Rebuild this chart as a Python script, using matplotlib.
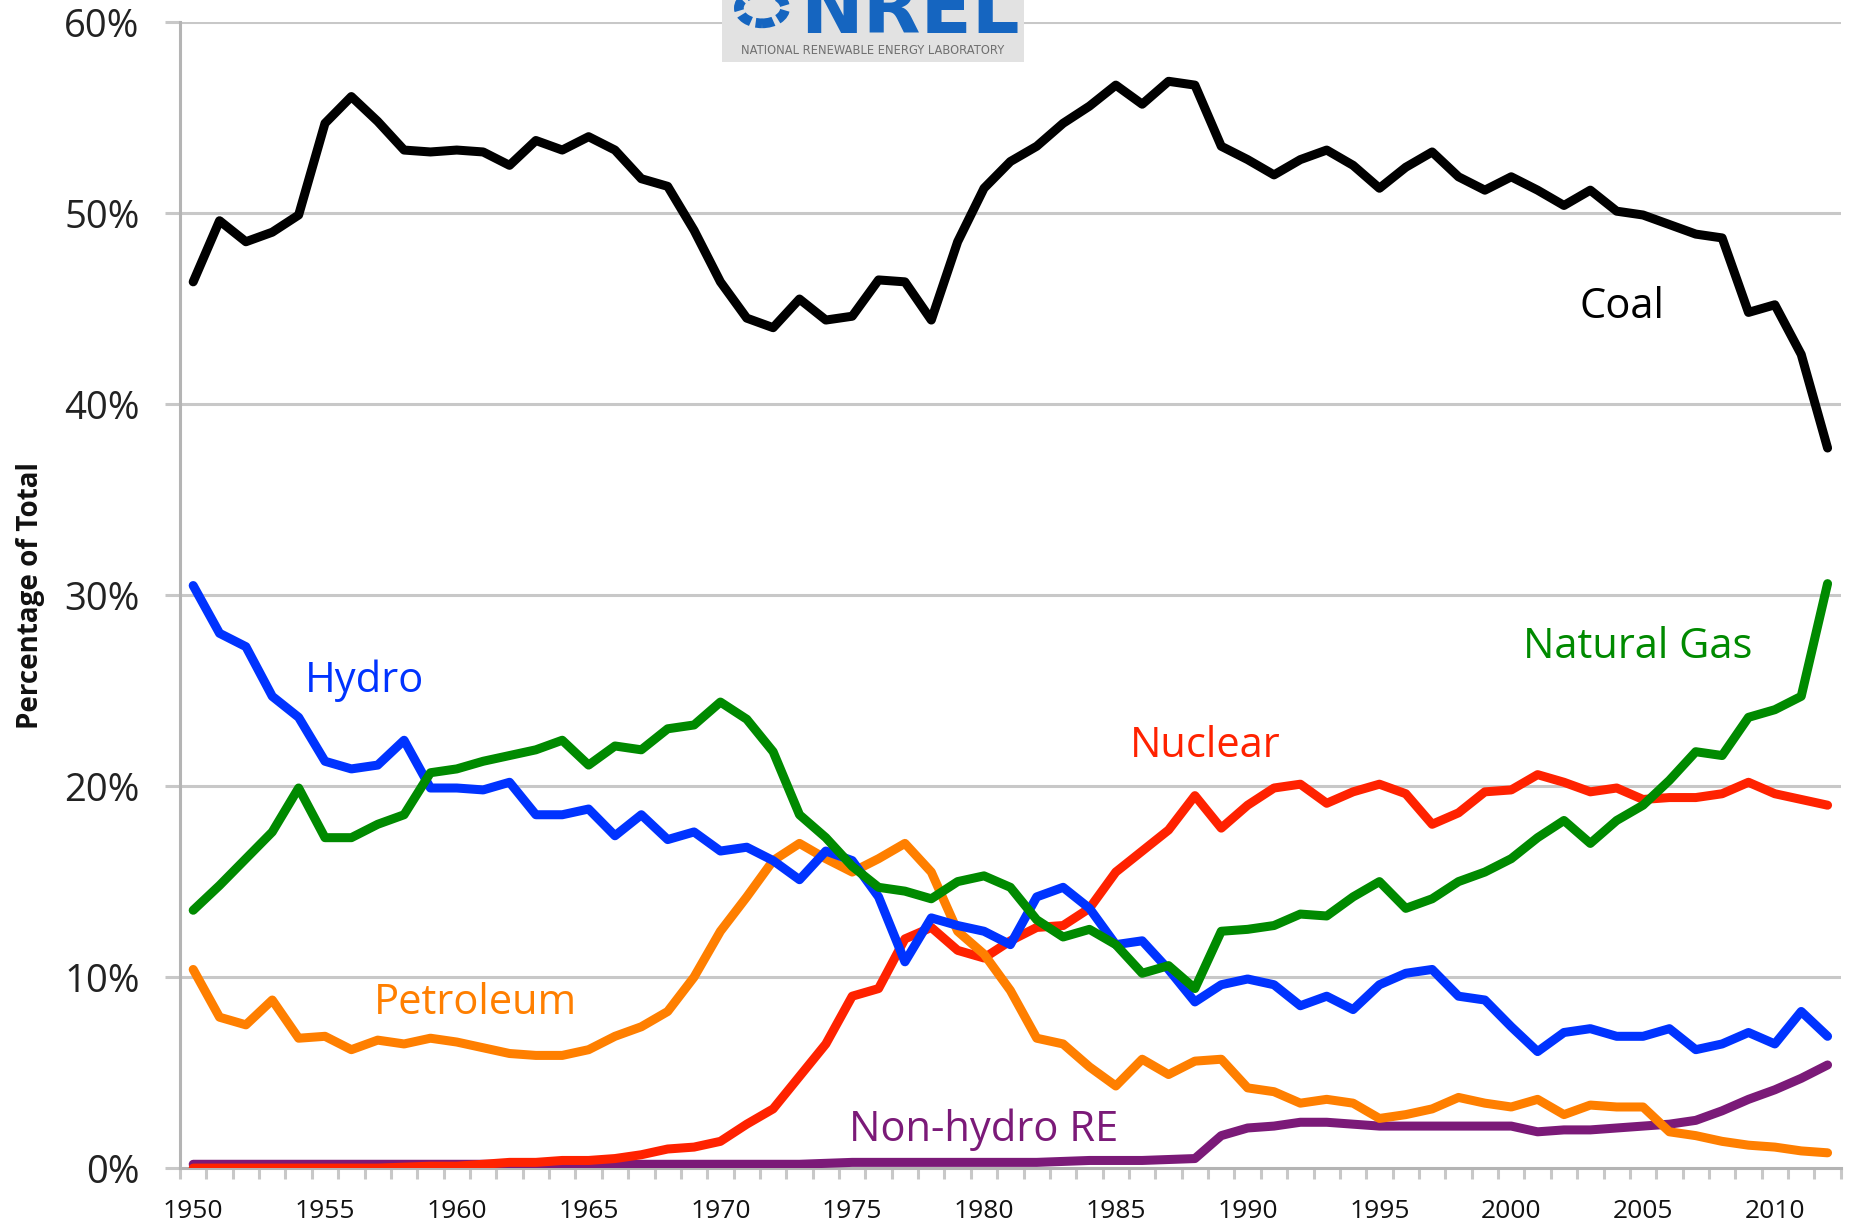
import numpy as np
import matplotlib
matplotlib.use('Agg')
import matplotlib.pyplot as plt
from matplotlib.patches import Rectangle, Circle

plt.rcParams['font.family'] = ['Open Sans', 'DejaVu Sans']

years = np.arange(1950, 2013)

coal = [46.4, 49.6, 48.5, 49.0, 49.9, 54.7, 56.1, 54.8, 53.3, 53.2,
        53.3, 53.2, 52.5, 53.8, 53.3, 54.0, 53.3, 51.8, 51.4, 49.1,
        46.4, 44.5, 44.0, 45.5, 44.4, 44.6, 46.5, 46.4, 44.4, 48.5,
        51.3, 52.7, 53.5, 54.7, 55.6, 56.7, 55.7, 56.9, 56.7, 53.5,
        52.8, 52.0, 52.8, 53.3, 52.5, 51.3, 52.4, 53.2, 51.9, 51.2,
        51.9, 51.2, 50.4, 51.2, 50.1, 49.9, 49.4, 48.9, 48.7, 44.8,
        45.2, 42.6, 37.7]

natural_gas = [13.5, 14.8, 16.2, 17.6, 19.9, 17.3, 17.3, 18.0, 18.5, 20.7,
               20.9, 21.3, 21.6, 21.9, 22.4, 21.1, 22.1, 21.9, 23.0, 23.2,
               24.4, 23.5, 21.8, 18.5, 17.3, 15.8, 14.7, 14.5, 14.1, 15.0,
               15.3, 14.7, 13.0, 12.1, 12.5, 11.7, 10.2, 10.6, 9.4, 12.4,
               12.5, 12.7, 13.3, 13.2, 14.2, 15.0, 13.6, 14.1, 15.0, 15.5,
               16.2, 17.3, 18.2, 17.0, 18.2, 19.0, 20.3, 21.8, 21.6, 23.6,
               24.0, 24.7, 30.6]

hydro = [30.5, 28.0, 27.3, 24.7, 23.6, 21.3, 20.9, 21.1, 22.4, 19.9,
         19.9, 19.8, 20.2, 18.5, 18.5, 18.8, 17.4, 18.5, 17.2, 17.6,
         16.6, 16.8, 16.1, 15.1, 16.6, 16.1, 14.2, 10.8, 13.1, 12.7,
         12.4, 11.7, 14.2, 14.7, 13.6, 11.7, 11.9, 10.4, 8.7, 9.6,
         9.9, 9.6, 8.5, 9.0, 8.3, 9.6, 10.2, 10.4, 9.0, 8.8,
         7.4, 6.1, 7.1, 7.3, 6.9, 6.9, 7.3, 6.2, 6.5, 7.1,
         6.5, 8.2, 6.9]

petroleum = [10.4, 7.9, 7.5, 8.8, 6.8, 6.9, 6.2, 6.7, 6.5, 6.8,
             6.6, 6.3, 6.0, 5.9, 5.9, 6.2, 6.9, 7.4, 8.2, 10.0,
             12.4, 14.2, 16.1, 17.0, 16.2, 15.5, 16.2, 17.0, 15.5, 12.4,
             11.2, 9.3, 6.8, 6.5, 5.3, 4.3, 5.7, 4.9, 5.6, 5.7,
             4.2, 4.0, 3.4, 3.6, 3.4, 2.6, 2.8, 3.1, 3.7, 3.4,
             3.2, 3.6, 2.8, 3.3, 3.2, 3.2, 1.9, 1.7, 1.4, 1.2,
             1.1, 0.9, 0.8]

nuclear = [0.0, 0.0, 0.0, 0.0, 0.0, 0.0, 0.0, 0.0, 0.05, 0.1,
           0.1, 0.2, 0.3, 0.3, 0.4, 0.4, 0.5, 0.7, 1.0, 1.1,
           1.4, 2.3, 3.1, 4.8, 6.5, 9.0, 9.4, 12.0, 12.6, 11.4,
           11.0, 11.9, 12.6, 12.7, 13.6, 15.5, 16.6, 17.7, 19.5, 17.8,
           19.0, 19.9, 20.1, 19.1, 19.7, 20.1, 19.6, 18.0, 18.6, 19.7,
           19.8, 20.6, 20.2, 19.7, 19.9, 19.3, 19.4, 19.4, 19.6, 20.2,
           19.6, 19.3, 19.0]

non_hydro_re = [0.2, 0.2, 0.2, 0.2, 0.2, 0.2, 0.2, 0.2, 0.2, 0.2,
                0.2, 0.2, 0.2, 0.2, 0.2, 0.2, 0.2, 0.2, 0.2, 0.2,
                0.2, 0.2, 0.2, 0.2, 0.25, 0.3, 0.3, 0.3, 0.3, 0.3,
                0.3, 0.3, 0.3, 0.35, 0.4, 0.4, 0.4, 0.45, 0.5, 1.7,
                2.1, 2.2, 2.4, 2.4, 2.3, 2.2, 2.2, 2.2, 2.2, 2.2,
                2.2, 1.9, 2.0, 2.0, 2.1, 2.2, 2.3, 2.5, 3.0, 3.6,
                4.1, 4.7, 5.4]

# series: name, data, colour, label position (year, percent)
series = [
    ('Coal', coal, '#000000', 2004.2, 45.1),
    ('Natural Gas', natural_gas, '#008a00', 2004.8, 27.3),
    ('Hydro', hydro, '#0033ff', 1956.5, 25.5),
    ('Petroleum', petroleum, '#ff7f00', 1960.7, 8.65),
    ('Nuclear', nuclear, '#ff2200', 1988.4, 22.1),
    ('Non-hydro RE', non_hydro_re, '#7b1a78', 1980.0, 2.0),
]

fig = plt.figure(figsize=(18.5, 12.27), dpi=100)
ax = fig.add_axes([0.0973, 0.048, 0.8977, 0.934])

grid_col = '#c8c8c8'
for yv in [10, 20, 30, 40, 50, 60]:
    ax.axhline(yv, color=grid_col, lw=2.2, zorder=1)

draw_order = ['Non-hydro RE', 'Nuclear', 'Petroleum', 'Hydro', 'Natural Gas', 'Coal']
for name in draw_order:
    for s in series:
        if s[0] == name:
            ax.plot(years, s[1], color=s[2], lw=6.5, solid_joinstyle='round',
                    solid_capstyle='round', zorder=3)

for name, data, col, lx, ly in series:
    ax.text(lx, ly, name, color=col, fontsize=30, ha='center', va='center', zorder=4)

ax.set_xlim(1949.5, 2012.5)
ax.set_ylim(0, 60)
ax.set_yticks([0, 10, 20, 30, 40, 50, 60])
ax.set_yticklabels(['0%', '10%', '20%', '30%', '40%', '50%', '60%'], fontsize=27.5, color='#222222')
ax.set_xticks(np.arange(1950, 2011, 5))
ax.set_xticklabels([str(y) for y in range(1950, 2011, 5)], fontsize=19, color='#111111')
ax.set_xticks(np.arange(1949.5, 2013, 1), minor=True)
ax.tick_params(axis='x', which='major', length=0, pad=22)
ax.tick_params(axis='x', which='minor', length=8, width=2.2, color=grid_col)
ax.tick_params(axis='y', which='major', length=11, width=2.2, color=grid_col, pad=18)

for side in ['top', 'right']:
    ax.spines[side].set_visible(False)
ax.spines['left'].set_color('#b4b4b4')
ax.spines['left'].set_linewidth(2.2)
ax.spines['bottom'].set_color('#b4b4b4')
ax.spines['bottom'].set_linewidth(2.2)

ax.set_ylabel('Percentage of Total', fontsize=20, fontweight='bold', color='#111111')
ax.yaxis.set_label_coords(-0.081, 0.5)

# NREL logo block at the top
fig.patches.append(Rectangle((722 / 1850, 1 - 62 / 1227), 302 / 1850, 62 / 1227,
                             transform=fig.transFigure, facecolor='#e2e2e2',
                             edgecolor='none', zorder=5))
fig.text(910 / 1850, 1 - 33 / 1227, 'NREL', color='#1565c0', fontsize=54,
         fontweight='bold', ha='center', va='baseline', zorder=6,
         family=['DejaVu Sans'])
fig.text(873 / 1850, 1 - 51 / 1227, 'NATIONAL RENEWABLE ENERGY LABORATORY',
         color='#707070', fontsize=8.3, ha='center', va='center', zorder=6,
         family=['DejaVu Sans'])
fig.patches.append(Circle((762 / 1850, 1 - 8 / 1227), 0.0125, transform=fig.transFigure,
                          facecolor='none', edgecolor='#1565c0', lw=7,
                          linestyle=(0, (1.2, 0.5)), zorder=6))

fig.savefig('out.png', dpi=100, facecolor='white')
